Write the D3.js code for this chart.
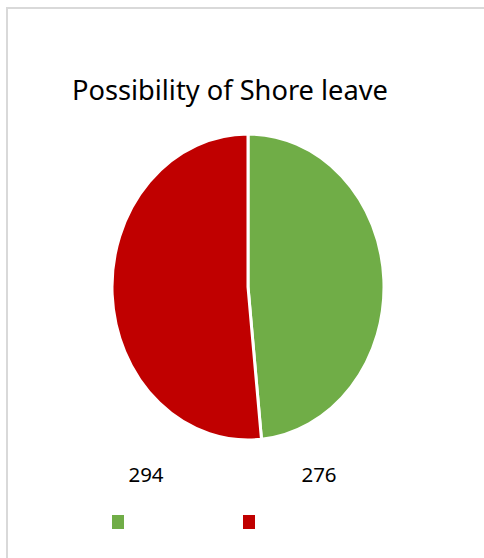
<!DOCTYPE html>
<html>
<head>
<meta charset="utf-8">
<script src="https://cdn.jsdelivr.net/npm/d3@7"></script>
<style>
  body { margin: 0; background: #fff; }
  svg { display: block; }
</style>
</head>
<body>
<svg id="main"></svg>
<script>
// chart values
var categories = ["", ""];
var values = [276, 294];
var colors = ["#70ad47", "#c00000"];
var title = "Possibility of Shore leave";

var chart = {
  width: 484,
  height: 558,
  cx: 248,
  cy: 287,
  rx: 136,
  ry: 153
}

var svg = d3.select("#main")
  .attr("width", chart.width)
  .attr("height", chart.height)

// chart area border (only top and left show in the crop)
svg.append("path")
  .attr("d", "M7,558 L7,8 L484,8")
  .attr("fill", "none")
  .attr("stroke", "#d9d9d9")
  .attr("stroke-width", 2)

var t = svg.append("text")
  .attr("x", 72)
  .attr("y", 100)
  .attr("font-family", "'Noto Sans', sans-serif")
  .attr("font-size", 24)
  .attr("fill", "#000")
  .text(title)

// fit the title to the width it has in the picture
var w = t.node().getComputedTextLength();
t.attr("font-size", 24 * 316 / w)

var pie = d3.pie().sort(null).value(function(d) { return d; })
var arc = d3.arc().innerRadius(0).outerRadius(chart.rx)

var g = svg.append("g")
  .attr("transform", "translate(" + chart.cx + "," + chart.cy + ") scale(1," + (chart.ry / chart.rx) + ")")

g.selectAll("path")
  .data(pie(values))
  .join("path")
  .attr("d", arc)
  .attr("fill", function(d, i) { return colors[i]; })
  .attr("stroke", "#fff")
  .attr("stroke-width", 3)
  .attr("vector-effect", "non-scaling-stroke")

// data labels sit below the pie, in reversed order
var labelX = d3.scalePoint().domain([1, 0]).range([146, 319])

svg.selectAll("text.lbl")
  .data(values)
  .join("text")
  .attr("class", "lbl")
  .attr("x", function(d, i) { return labelX(i); })
  .attr("y", 482)
  .attr("text-anchor", "middle")
  .attr("font-family", "'Noto Sans', sans-serif")
  .attr("font-size", 20.5)
  .attr("fill", "#000")
  .text(function(d) { return d; })

var legendX = d3.scalePoint().domain(d3.range(categories.length)).range([112, 243])

var leg = svg.selectAll("g.leg")
  .data(categories)
  .join("g")
  .attr("class", "leg")
  .attr("transform", function(d, i) { return "translate(" + legendX(i) + ",515)"; })

leg.append("rect")
  .attr("width", 12)
  .attr("height", 14)
  .attr("fill", function(d, i) { return colors[i]; })

leg.append("text")
  .attr("x", 18)
  .attr("y", 12)
  .attr("font-family", "'Noto Sans', sans-serif")
  .attr("font-size", 14)
  .text(function(d) { return d; })
</script>
</body>
</html>
